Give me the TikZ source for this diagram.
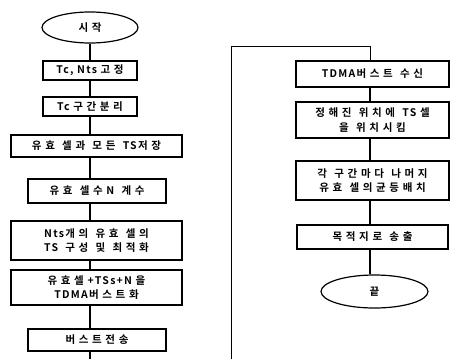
\documentclass[tikz,border=0pt]{standalone}
\usepackage{fontspec}
\setmainfont{Noto Sans CJK KR}[BoldFont={Noto Sans CJK KR Bold},LetterSpace=12]
\usetikzlibrary{shapes.geometric}
\begin{document}
\begin{tikzpicture}[x=1pt,y=-1pt,
  stepbox/.style={draw,line width=1.2pt,inner sep=0pt,align=center,font=\fontsize{10.5}{14.5}\selectfont\bfseries},
  term/.style={draw,ellipse,line width=1.2pt,inner sep=0pt,font=\fontsize{10.5}{12}\selectfont\bfseries},
  conn/.style={line width=1.3pt}]
\useasboundingbox (0,0) rectangle (452,359);
\coordinate (lx) at (90,0);
\coordinate (rx) at (370,0);
% left column
\node[term,minimum width=96pt,minimum height=31pt] (s) at (90,27.5) {시 작};
\node[stepbox,minimum width=94pt,minimum height=19pt] (a1) at (90,70.5) {Tc, Nts 고 정};
\node[stepbox,minimum width=94pt,minimum height=19pt] (a2) at (90,106.5) {Tc 구 간 분 리};
\node[stepbox,minimum width=171pt,minimum height=22pt] (a3) at (96.5,146) {유 효 \ 셀 과 \ 모 든 \ TS저 장};
\node[stepbox,minimum width=138pt,minimum height=24pt] (a4) at (97,191) {유 효 \ 셀 수 N \ 계 수};
\node[stepbox,minimum width=171pt,minimum height=39pt] (a5) at (96.5,240.5) {Nts개 의 \ 유 효 \ 셀 의\\TS \ 구 성 \ 및 \ 최 적 화};
\node[stepbox,minimum width=171pt,minimum height=35pt] (a6) at (96.5,287.5) {유 효 셀 +TSs+N 을\\TDMA버 스 트 화};
\node[stepbox,minimum width=138pt,minimum height=22pt] (a7) at (97,340) {버 스 트 전 송};
\coordinate (lend) at (90,359);
\draw[conn] (s.south -| lx) -- (a1.north -| lx);
\draw[conn] (a1.south -| lx) -- (a2.north -| lx);
\draw[conn] (a2.south -| lx) -- (a3.north -| lx);
\draw[conn] (a3.south -| lx) -- (a4.north -| lx);
\draw[conn] (a4.south -| lx) -- (a5.north -| lx);
\draw[conn] (a5.south -| lx) -- (a6.north -| lx);
\draw[conn] (a6.south -| lx) -- (a7.north -| lx);
\draw[conn] (a7.south -| lx) -- (lend);
% right column
\node[stepbox,minimum width=153pt,minimum height=26pt] (b1) at (372.5,74) {TDMA버 스 트 \ 수 신};
\node[stepbox,minimum width=153pt,minimum height=36pt] (b2) at (372.5,120) {정 해 진 \ 위 치 에 \ TS 셀\\을 \ 위 치 시 킴};
\node[stepbox,minimum width=153pt,minimum height=39pt] (b3) at (372.5,180.5) {각 \ 구 간 마 다 \ 나 머 지\\유 효 \ 셀 의 균 등 배 치};
\node[stepbox,minimum width=151pt,minimum height=24pt] (b4) at (372.5,237) {목 적 지 로 \ 송 출};
\node[term,minimum width=107pt,minimum height=33pt] (e) at (374.5,291.5) {끝};
\coordinate (rbot) at (231,359);
\coordinate (rtop) at (231,46);
\draw[conn,line width=1pt] (rbot) -- (rtop) -| (b1.north -| rx);
\draw[conn] (b1.south -| rx) -- (b2.north -| rx);
\draw[conn] (b2.south -| rx) -- (b3.north -| rx);
\draw[conn] (b3.south -| rx) -- (b4.north -| rx);
\draw[conn] (b4.south -| rx) -- (e.north -| rx);
\end{tikzpicture}
\end{document}
